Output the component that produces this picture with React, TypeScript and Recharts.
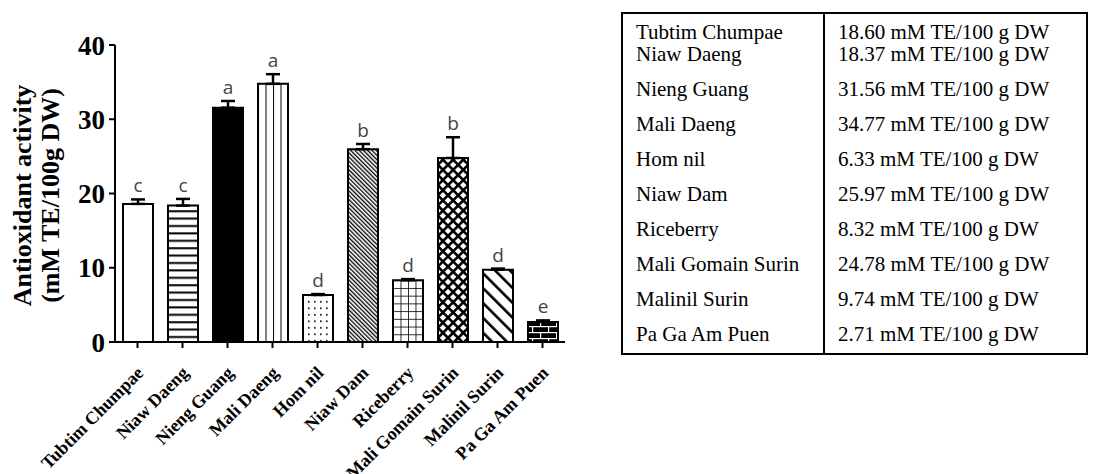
import React from 'react';
import { BarChart, Bar, XAxis, YAxis, Cell, ErrorBar, LabelList, Label } from 'recharts';

const varieties = [
  'Tubtim Chumpae',
  'Niaw Daeng',
  'Nieng Guang',
  'Mali Daeng',
  'Hom nil',
  'Niaw Dam',
  'Riceberry',
  'Mali Gomain Surin',
  'Malinil Surin',
  'Pa Ga Am Puen',
];
// mM TE / 100 g DW
const activity = [18.6, 18.37, 31.56, 34.77, 6.33, 25.97, 8.32, 24.78, 9.74, 2.71];
const sd = [0.6, 0.9, 0.9, 1.3, 0.12, 0.7, 0.15, 2.8, 0.15, 0.2];
const groups = ['c', 'c', 'a', 'a', 'd', 'b', 'd', 'b', 'd', 'e'];
const yTicks = [0, 10, 20, 30, 40];

const fills = [
  '#fff',
  'url(#hlines)',
  '#000',
  'url(#vlines)',
  'url(#dots)',
  'url(#denseDiag)',
  'url(#grid)',
  'url(#cross)',
  'url(#wideDiag)',
  'url(#brick)',
];

const data = varieties.map((name, i) => ({
  name,
  value: activity[i],
  err: [0, sd[i]],
  group: groups[i],
}));

const SERIF = '"Liberation Serif", "Times New Roman", serif';

const XTick = (props: any) => {
  const { x, y, payload } = props;
  const ax = x + 7;
  const ay = y + 24;
  return (
    <text
      x={ax}
      y={ay}
      transform={`rotate(-45, ${ax}, ${ay})`}
      textAnchor="end"
      fontFamily={SERIF}
      fontWeight="bold"
      fontSize={18}
      fill="#000"
    >
      {payload.value}
    </text>
  );
};

const GroupLetter = (props: any) => {
  const { x, y, width, height, index, value } = props;
  const ppu = height / activity[index];
  const top = y - sd[index] * ppu;
  return (
    <text
      x={x + width / 2}
      y={top - 7}
      textAnchor="middle"
      fontFamily='"Open Sans", sans-serif'
      fontSize={19}
      fill="#444"
    >
      {value}
    </text>
  );
};

const YTitle = (props: any) => {
  const { viewBox } = props;
  const cy = viewBox.y + viewBox.height / 2 + 2;
  return (
    <g fontFamily={SERIF} fontWeight="bold" fontSize={26} fill="#000">
      <text transform={`translate(31, ${cy}) rotate(-90)`} textAnchor="middle">
        Antioxidant activity
      </text>
      <text transform={`translate(59, ${cy}) rotate(-90)`} textAnchor="middle">
        (mM TE/100g DW)
      </text>
    </g>
  );
};

// first two names sit tight together, the rest are spaced out
const padTop = (i: number) => (i === 0 ? 7 : i === 1 ? 0 : 13);
const padBottom = (i: number) => (i === varieties.length - 1 ? 8 : 0);

export default function App() {
  return (
    <div style={{ position: 'absolute', left: 0, top: 0, width: 1099, height: 474, background: '#fff' }}>
      <BarChart
        width={600}
        height={474}
        data={data}
        margin={{ top: 45, right: 35, bottom: 12, left: 55 }}
        barSize={30}
      >
        <defs>
          <pattern id="hlines" patternUnits="userSpaceOnUse" width={8} height={7.4}>
            <rect width={8} height={7.4} fill="#fff" />
            <rect y={3} width={8} height={2} fill="#000" />
          </pattern>
          <pattern id="vlines" patternUnits="objectBoundingBox" width={0.25} height={1}>
            <rect width={8} height={400} fill="#fff" />
            <rect x={-1} width={2} height={400} fill="#000" />
          </pattern>
          <pattern id="dots" patternUnits="userSpaceOnUse" width={6} height={6.5}>
            <rect width={6} height={6.5} fill="#fff" />
            <rect x={2} y={2} width={1.6} height={1.6} fill="#000" />
          </pattern>
          <pattern id="denseDiag" patternUnits="userSpaceOnUse" width={3} height={3} patternTransform="rotate(-45)">
            <rect width={3} height={3} fill="#fff" />
            <rect width={1.3} height={3} fill="#000" />
          </pattern>
          <pattern id="grid" patternUnits="objectBoundingBox" width={0.25} height={0.125}>
            <rect width={8} height={8} fill="#fff" />
            <rect x={-0.8} width={1.6} height={8} fill="#000" />
            <rect y={-0.8} width={8} height={1.6} fill="#000" />
          </pattern>
          <pattern id="cross" patternUnits="userSpaceOnUse" width={7.2} height={7.2} patternTransform="rotate(45)">
            <rect width={7.2} height={7.2} fill="#fff" />
            <rect width={7.2} height={2.6} fill="#000" />
            <rect width={2.6} height={7.2} fill="#000" />
          </pattern>
          <pattern id="wideDiag" patternUnits="userSpaceOnUse" width={10.5} height={10.5} patternTransform="rotate(-45)">
            <rect width={10.5} height={10.5} fill="#fff" />
            <rect width={2.6} height={10.5} fill="#000" />
          </pattern>
          <pattern id="brick" patternUnits="userSpaceOnUse" width={16} height={12}>
            <rect width={16} height={12} fill="#000" />
            <rect y={2} width={16} height={1.2} fill="#fff" />
            <rect y={8} width={16} height={1.2} fill="#fff" />
            <rect x={4} y={2} width={1.2} height={6} fill="#fff" />
            <rect x={12} y={8} width={1.2} height={6} fill="#fff" />
            <rect x={12} y={-4} width={1.2} height={6} fill="#fff" />
          </pattern>
        </defs>
        <XAxis
          dataKey="name"
          interval={0}
          height={120}
          tick={<XTick />}
          tickSize={6}
          tickMargin={2}
          axisLine={{ stroke: '#000', strokeWidth: 2 }}
          tickLine={{ stroke: '#000', strokeWidth: 2 }}
        />
        <YAxis
          width={60}
          domain={[0, 40]}
          ticks={yTicks}
          interval={0}
          tickSize={6}
          tickMargin={4}
          axisLine={{ stroke: '#000', strokeWidth: 2 }}
          tickLine={{ stroke: '#000', strokeWidth: 2 }}
          tick={{ fontFamily: SERIF, fontWeight: 'bold', fontSize: 27, fill: '#000' }}
        >
          <Label content={<YTitle />} />
        </YAxis>
        <Bar dataKey="value" isAnimationActive={false} stroke="#000" strokeWidth={2}>
          {data.map((d, i) => (
            <Cell key={d.name} fill={fills[i]} stroke="#000" strokeWidth={2} />
          ))}
          <ErrorBar dataKey="err" direction="y" width={7} stroke="#000" strokeWidth={2.5} isAnimationActive={false} />
          <LabelList dataKey="group" content={<GroupLetter />} />
        </Bar>
      </BarChart>

      <div
        style={{
          position: 'absolute',
          left: 621,
          top: 12,
          width: 467,
          border: '2px solid #000',
          boxSizing: 'border-box',
          fontFamily: SERIF,
          fontSize: 21,
          color: '#000',
        }}
      >
        {varieties.map((name, i) => (
          <div key={name} style={{ display: 'flex', lineHeight: '22px' }}>
            <div
              style={{
                width: 202,
                boxSizing: 'border-box',
                paddingLeft: 13,
                paddingTop: padTop(i),
                paddingBottom: padBottom(i),
                borderRight: '2px solid #000',
              }}
            >
              {name}
            </div>
            <div style={{ paddingLeft: 13, paddingTop: padTop(i) }}>
              {activity[i].toFixed(2)} mM TE/100 g DW
            </div>
          </div>
        ))}
      </div>
    </div>
  );
}
